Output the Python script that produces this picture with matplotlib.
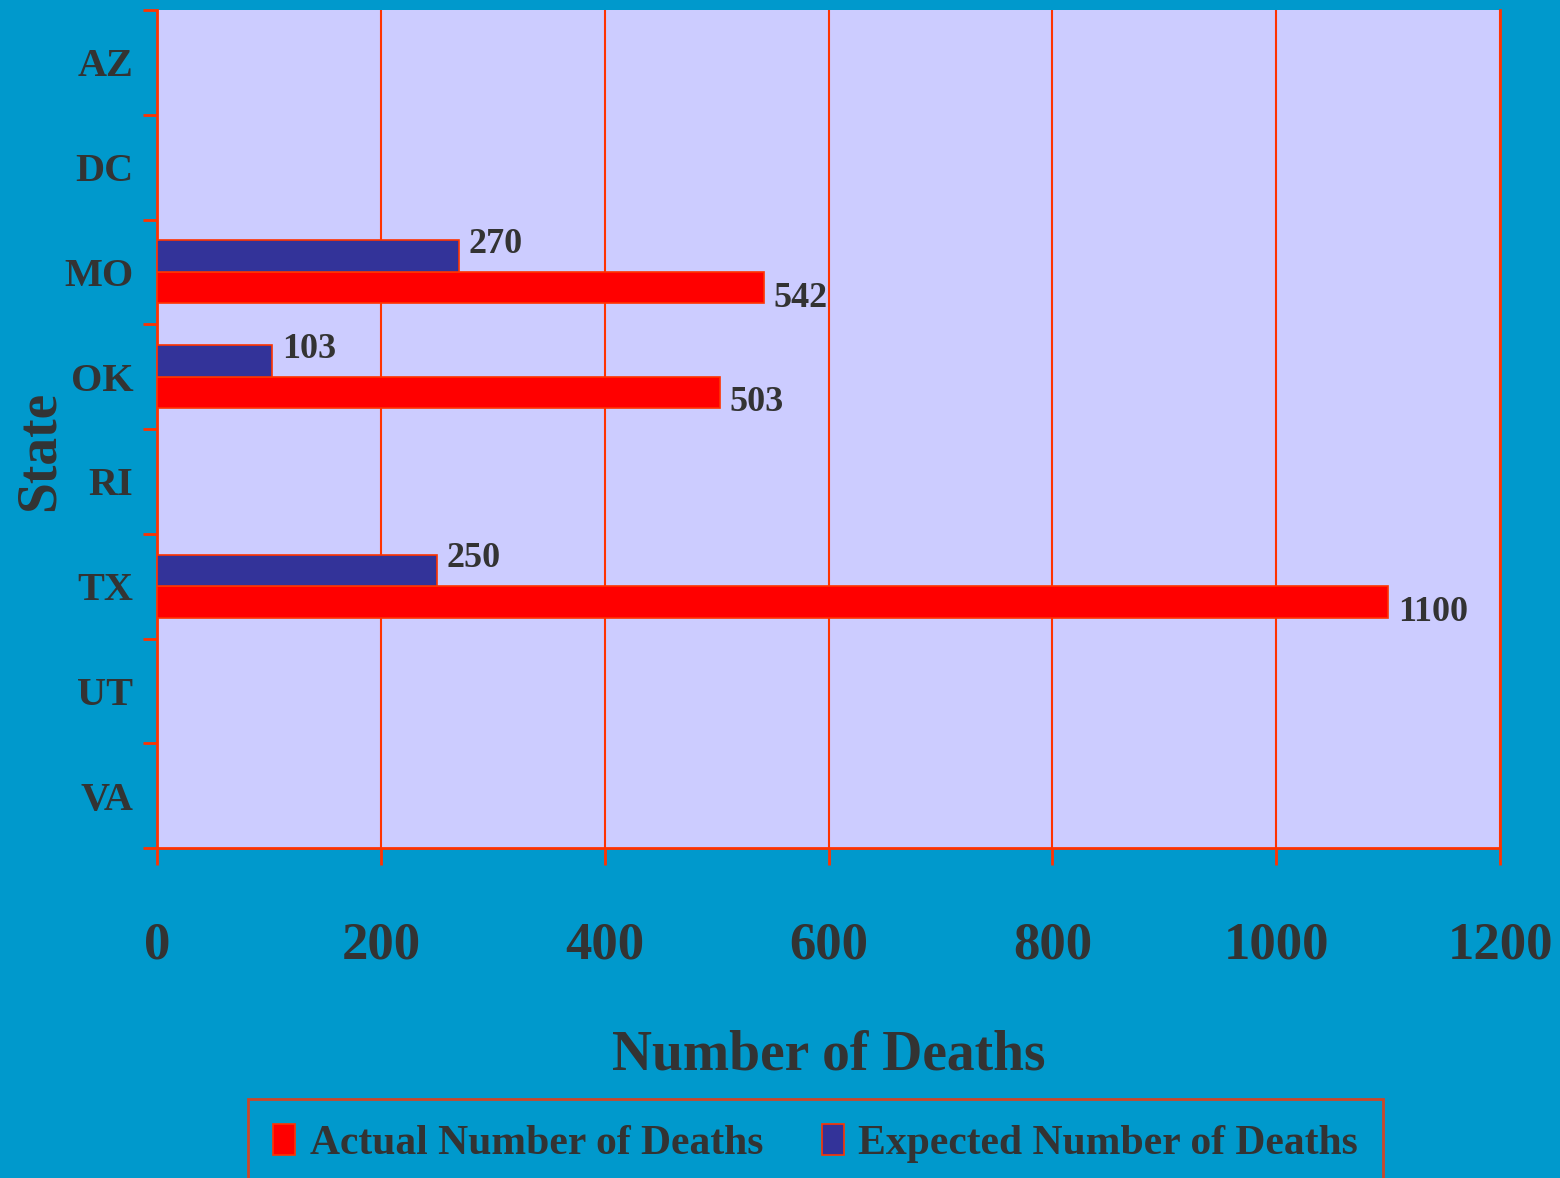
import numpy as np
import matplotlib
matplotlib.use('Agg')
import matplotlib.pyplot as plt

states = ['AZ', 'DC', 'MO', 'OK', 'RI', 'TX', 'UT', 'VA']
actual = [np.nan, np.nan, 542, 503, np.nan, 1100, np.nan, np.nan]
expected = [np.nan, np.nan, 270, 103, np.nan, 250, np.nan, np.nan]
xticks = [0, 200, 400, 600, 800, 1000, 1200]

bg = '#0099CC'
plotbg = '#CCCCFF'
linec = '#FF3300'
txt = '#333333'
plt.rcParams['font.family'] = ['Liberation Serif', 'DejaVu Serif']
plt.rcParams['font.weight'] = 'bold'

fig = plt.figure(1, figsize=(15.6, 11.78), dpi=100)
fig.patch.set_facecolor(bg)
ax = fig.add_axes([157/1560, 1-848/1178, 1343/1560, 838/1178])
ax.set_facecolor(plotbg)

y = np.arange(len(states))
h = 0.3
ax.barh(y + h/2, actual, height=h, color='#FF0000', edgecolor=linec, linewidth=1.2,
        label='Actual Number of Deaths', zorder=3)
ax.barh(y - h/2, expected, height=h, color='#333399', edgecolor=linec, linewidth=1.2,
        label='Expected Number of Deaths', zorder=3)

for i in range(len(states)):
    if not np.isnan(actual[i]):
        ax.annotate(str(actual[i]), (actual[i], y[i] + 0.25), xytext=(7, 0),
                    textcoords='offset points', va='center', ha='left',
                    fontsize=26, color=txt, fontweight='bold')
    if not np.isnan(expected[i]):
        ax.annotate(str(expected[i]), (expected[i], y[i] - 0.26), xytext=(7, 0),
                    textcoords='offset points', va='center', ha='left',
                    fontsize=26, color=txt, fontweight='bold')

ax.set_xlim(0, 1200)
ax.set_ylim(len(states) - 0.5, -0.5)
ax.set_xticks(xticks)
ax.set_xticklabels([str(v) for v in xticks])
ax.set_yticks(np.arange(len(states) + 1) - 0.5)
ax.set_yticklabels([])
ax.set_yticks(y, minor=True)
ax.set_yticklabels(states, minor=True)
ax.tick_params(axis='y', which='major', length=10, width=2, color=linec, direction='out')
ax.tick_params(axis='y', which='minor', length=0, pad=17, labelsize=29, labelcolor=txt)
ax.tick_params(axis='x', length=12, width=2, color=linec, direction='out', pad=41,
               labelsize=38, labelcolor=txt)
ax.grid(axis='x', color=linec, linewidth=1.5, zorder=1)
ax.set_axisbelow(True)
for s in ['left', 'bottom', 'right']:
    ax.spines[s].set_color(linec)
    ax.spines[s].set_linewidth(2)
ax.spines['top'].set_visible(False)

ax.set_xlabel('Number of Deaths', fontsize=40, color=txt, fontweight='bold')
ax.xaxis.set_label_coords(0.5, (848 - 1030) / 838)

fig.text(40/1560, 1 - 451/1178, 'State', rotation=90, ha='center', va='center',
         fontsize=40, color=txt, fontweight='bold')

leg = fig.legend(loc='upper left', bbox_to_anchor=(248/1560, 1-1099/1178 - 0.2, 1135/1560, 0.2),
                 mode='expand', ncol=2, fontsize=30, frameon=True, borderaxespad=0,
                 handlelength=0.53, handleheight=0.77, handletextpad=0.35,
                 borderpad=0.6, fancybox=False)
leg.get_frame().set_facecolor(bg)
leg.get_frame().set_edgecolor(linec)
leg.get_frame().set_linewidth(2)
for t in leg.get_texts():
    t.set_color(txt)

fig.savefig('out.png', dpi=100, facecolor=bg)
